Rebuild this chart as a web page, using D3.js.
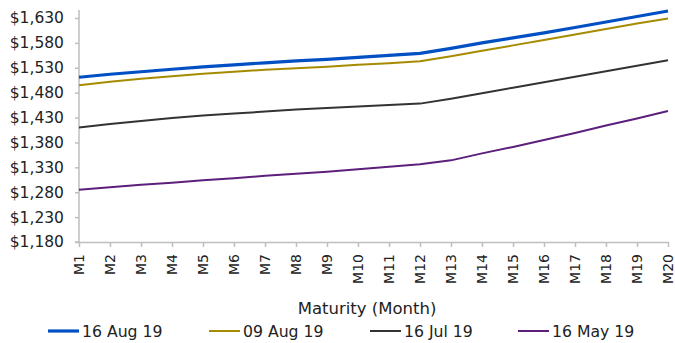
<!DOCTYPE html>
<html><head><meta charset="utf-8">
<script src="https://cdn.jsdelivr.net/npm/d3@7"></script>
<style>
body{margin:0;background:#fff;}
svg text{font-family:"DejaVu Sans",sans-serif;fill:#222;}
</style></head>
<body><svg id="c" width="675" height="343"></svg>
<script>
const categories = ["M1","M2","M3","M4","M5","M6","M7","M8","M9","M10","M11","M12","M13","M14","M15","M16","M17","M18","M19","M20"];
const seriesNames = ["16 Aug 19","09 Aug 19","16 Jul 19","16 May 19"];
const aug16 = [1511,1517,1522,1527,1532,1536,1540,1544,1547,1551,1555,1559,1569,1580,1590,1600,1611,1622,1633,1644];
const aug09 = [1495,1502,1508,1513,1518,1522,1526,1529,1532,1536,1539,1543,1553,1564,1575,1586,1597,1608,1619,1629];
const jul16 = [1410,1417,1423,1429,1434,1438,1442,1446,1449,1452,1455,1458,1468,1479,1490,1501,1512,1523,1534,1545];
const may16 = [1285,1290,1295,1299,1304,1308,1313,1317,1321,1326,1331,1336,1344,1358,1371,1385,1399,1414,1428,1443];
const yTicks = [1180,1230,1280,1330,1380,1430,1480,1530,1580,1630];
const xTitle = "Maturity (Month)";

const colors = ["#0050c3","#a68b00","#333333","#5c1f7c"];
const widths = [3.2,2,2,2];
const data = [aug16,aug09,jul16,may16];

const svg = d3.select("#c");
const pL=79, pR=668, pT=18, pB=242;
const x = d3.scalePoint().domain(categories).range([pL,pR]);
const y = d3.scaleLinear().domain([1180,1630]).range([pB,pT]);

// y axis
const ya = svg.append("g").attr("transform",`translate(${pL},0)`)
  .call(d3.axisLeft(y).tickValues(yTicks).tickSize(4).tickPadding(11).tickFormat(d=>"$"+d3.format(",")(d)));
ya.select(".domain").attr("stroke","#bfbfbf").attr("stroke-width",1.5).attr("d",`M-4,${pB}H0V${pT-8}`);
ya.selectAll(".tick line").attr("stroke","#bfbfbf").attr("stroke-width",1.5);
ya.selectAll("text").style("font-size","15.5px").style("fill","#222");

// x axis
const xa = svg.append("g").attr("transform",`translate(0,${pB})`)
  .call(d3.axisBottom(x).tickSize(5).tickSizeOuter(0));
xa.select(".domain").attr("stroke","#bfbfbf").attr("stroke-width",1.5);
xa.selectAll(".tick line").attr("stroke","#bfbfbf").attr("stroke-width",1.5);
xa.selectAll("text").style("font-size","14px").style("fill","#222")
  .attr("text-anchor","end").attr("dy","0.35em")
  .attr("transform","translate(0,12) rotate(-90)").attr("x",0).attr("y",0);

svg.append("text").attr("x",367).attr("y",308).attr("dy","0.35em").attr("text-anchor","middle")
  .style("font-size","16.5px").text(xTitle);

const line = d3.line().x((d,i)=>x(categories[i])).y(d=>y(d));
[3,2,1,0].forEach(k=>{
  svg.append("path").datum(data[k]).attr("d",line).attr("fill","none")
    .attr("stroke",colors[k]).attr("stroke-width",widths[k]).attr("stroke-linejoin","round");
});

// legend
const lx = [48,209,370,518];
seriesNames.forEach((n,k)=>{
  const g = svg.append("g").attr("transform",`translate(${lx[k]},331)`);
  g.append("line").attr("x1",0).attr("x2",31).attr("y1",0).attr("y2",0)
    .attr("stroke",colors[k]).attr("stroke-width",widths[k]);
  g.append("text").attr("x",34).attr("y",0).attr("dy","0.35em").style("font-size","15.7px").text(n);
});
</script></body></html>
